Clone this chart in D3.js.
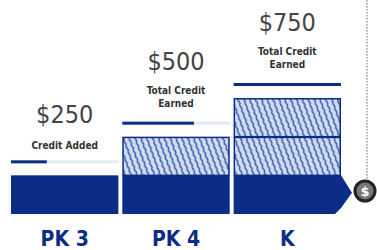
<!DOCTYPE html>
<html>
<head>
<meta charset="utf-8">
<script src="https://cdn.jsdelivr.net/npm/d3@7"></script>
<style>
  body { margin: 0; background: #fff; }
  svg { display: block; }
</style>
</head>
<body>
<div id="chart"></div>
<script>
// chart data
var grades = ["PK 3", "PK 4", "K"];
var amounts = [250, 500, 750];
var captions = [["Credit Added"], ["Total Credit", "Earned"], ["Total Credit", "Earned"]];
var maxCredit = 750;
var chunk = 250;

var svgWidth = 377;
var svgHeight = 250;
var navy = "#0b2d88";

var svg = d3.select("#chart")
    .append("svg")
    .attr("width", svgWidth)
    .attr("height", svgHeight);

// wavy hatch pattern
var defs = svg.append("defs");
var pat = defs.append("pattern")
    .attr("id", "hatch")
    .attr("patternUnits", "userSpaceOnUse")
    .attr("width", 5.5)
    .attr("height", 6)
    .attr("patternTransform", "rotate(-20)");
pat.append("rect").attr("width", 5.5).attr("height", 6).attr("fill", "#d3dcef");
pat.append("path")
    .attr("d", "M2.75,0 C1.9,1.5 1.9,1.5 2.75,3 C3.6,4.5 3.6,4.5 2.75,6")
    .attr("fill", "none")
    .attr("stroke", "#2f57b0")
    .attr("stroke-width", 1.5);

var x = d3.scaleBand()
    .domain(grades)
    .range([11, 341])
    .paddingInner(0.035);

var y = d3.scaleLinear()
    .domain([0, maxCredit])
    .range([214, 98]);

var prog = d3.scaleLinear()
    .domain([0, maxCredit])
    .range([0, x.bandwidth()]);

// dotted guide and coin
svg.append("line")
    .attr("x1", 367).attr("x2", 367)
    .attr("y1", 0).attr("y2", 182)
    .attr("stroke", "#9a9a9a")
    .attr("stroke-width", 1.5)
    .attr("stroke-dasharray", "1.5,1.5");

grades.forEach(function(g, i) {
    var x0 = x(g);
    var w = x.bandwidth();
    var top = y(amounts[i]);

    // solid base chunk
    if (i === grades.length - 1) {
        var y0 = y(chunk), y1 = y(0);
        var mid = (y0 + y1) / 2 - 2;
        svg.append("path")
            .attr("d", "M" + x0 + "," + y0 + "H" + (x0 + w) +
                "L" + (x0 + w + 11) + "," + mid +
                "L" + (x0 + w) + "," + (y1 - 6) + "L" + (x0 + w - 6) + "," + y1 + "H" + x0 + "Z")
            .attr("fill", navy);
    } else {
        svg.append("rect")
            .attr("x", x0)
            .attr("y", y(chunk))
            .attr("width", w)
            .attr("height", y(0) - y(chunk))
            .attr("fill", navy);
    }

    // hatched chunks
    d3.range(1, amounts[i] / chunk).forEach(function(k) {
        svg.append("rect")
            .attr("x", x0 + 0.75)
            .attr("y", y((k + 1) * chunk) + 0.75)
            .attr("width", w - 1.5)
            .attr("height", y(k * chunk) - y((k + 1) * chunk) - 0.75)
            .attr("fill", "url(#hatch)")
            .attr("stroke", navy)
            .attr("stroke-width", 1.5);
    });

    // progress track
    svg.append("rect")
        .attr("x", x0).attr("y", top - 15)
        .attr("width", w).attr("height", 3)
        .attr("fill", "#e4e9f4");
    svg.append("rect")
        .attr("x", x0).attr("y", top - 15)
        .attr("width", prog(amounts[i])).attr("height", 3)
        .attr("fill", navy);

    var cx = x0 + w / 2;
    var lines = captions[i];
    var last = lines.length === 1 ? 26 : 30;
    lines.forEach(function(t, j) {
        svg.append("text")
            .attr("x", cx)
            .attr("y", top - last - (lines.length - 1 - j) * 13)
            .attr("text-anchor", "middle")
            .attr("font-family", "DejaVu Sans Condensed, DejaVu Sans")
            .attr("font-weight", "bold")
            .attr("font-size", 10)
            .attr("fill", "#333")
            .text(t);
    });

    svg.append("text")
        .attr("x", cx)
        .attr("y", top - (lines.length === 1 ? 52 : 67))
        .attr("text-anchor", "middle")
        .attr("font-family", "DejaVu Sans Condensed, DejaVu Sans")
        .attr("font-size", 25)
        .attr("fill", "#444")
        .text("$" + amounts[i]);

    svg.append("text")
        .attr("x", cx)
        .attr("y", 246)
        .attr("text-anchor", "middle")
        .attr("font-family", "Liberation Sans Narrow, DejaVu Sans Condensed")
        .attr("font-weight", "bold")
        .attr("font-size", 21)
        .attr("fill", navy)
        .text(g);
});

svg.append("circle")
    .attr("cx", 365).attr("cy", 191).attr("r", 10)
    .attr("fill", "#777")
    .attr("stroke", "#222")
    .attr("stroke-width", 3);
svg.append("text")
    .attr("x", 365).attr("y", 196)
    .attr("text-anchor", "middle")
    .attr("font-family", "DejaVu Sans")
    .attr("font-weight", "bold")
    .attr("font-size", 13)
    .attr("fill", "#fff")
    .text("$");
</script>
</body>
</html>
